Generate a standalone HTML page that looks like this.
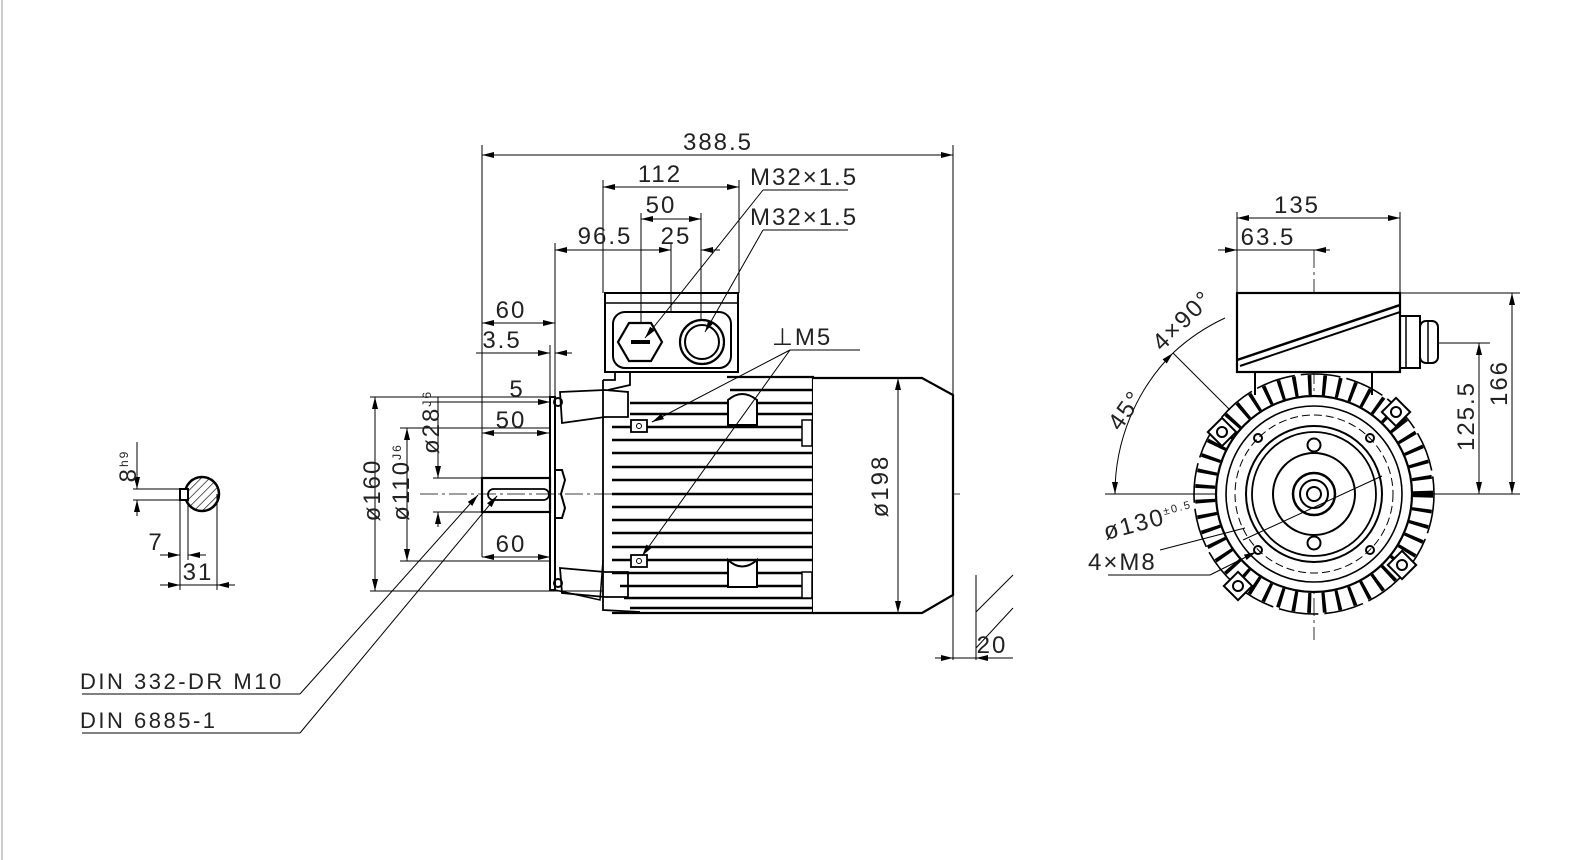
<!DOCTYPE html>
<html><head><meta charset="utf-8"><style>
html,body{margin:0;padding:0;background:#fff}
svg{display:block}
text{font-family:"Liberation Sans",sans-serif;fill:#222;font-size:24px;letter-spacing:2px}
</style></head><body>
<svg width="1596" height="860" viewBox="0 0 1596 860" xmlns="http://www.w3.org/2000/svg">
<defs>
<marker id="a" viewBox="0 0 12 6" refX="12" refY="3" markerWidth="12" markerHeight="6" orient="auto-start-reverse" markerUnits="userSpaceOnUse"><path d="M0,0 L12,3 L0,6 z" fill="#000"/></marker>
<pattern id="h" width="6" height="6" patternUnits="userSpaceOnUse" patternTransform="rotate(45)"><line x1="0" y1="0" x2="0" y2="6" stroke="#000" stroke-width="1.3"/></pattern>
</defs>
<line x1="2" y1="0" x2="2" y2="860" stroke="#999" stroke-width="1"/>
<g stroke="#000" fill="none" stroke-width="1">
<circle cx="202" cy="494" r="17" fill="url(#h)" stroke-width="2.5"/>
<rect x="180" y="489" width="8" height="11" fill="#fff" stroke-width="2"/>
<line x1="133" y1="489" x2="180" y2="489"/><line x1="133" y1="500" x2="180" y2="500"/>
<line x1="137" y1="442" x2="137" y2="489" marker-end="url(#a)"/><line x1="137" y1="516" x2="137" y2="500" marker-end="url(#a)"/>
<line x1="180" y1="500" x2="180" y2="590"/><line x1="188" y1="500" x2="188" y2="560"/><line x1="217" y1="494" x2="217" y2="590"/>
<line x1="160" y1="555" x2="180" y2="555" marker-end="url(#a)"/><line x1="206" y1="555" x2="188" y2="555" marker-end="url(#a)"/>
<line x1="160" y1="585" x2="180" y2="585" marker-end="url(#a)"/><line x1="235" y1="585" x2="217" y2="585" marker-end="url(#a)"/>
<line x1="180" y1="585" x2="217" y2="585"/>

<line x1="420" y1="494" x2="960" y2="494" stroke-dasharray="18 4 3 4" stroke-width="0.8"/>
<rect x="550" y="397" width="5" height="193" stroke-width="2"/>
<path d="M555,397 L555,590 L600,600 L603,560" stroke-width="1.5"/>
<rect x="482" y="478" width="68" height="34" stroke-width="2.2"/>
<rect x="488" y="489" width="61" height="11" rx="5.5" stroke-width="1.8"/>
<path d="M555,470 L562,470 L565,480 L561,494 L565,508 L562,518 L555,518" stroke-width="2"/>
<path d="M560,392 L605,390 L628,392 L628,417 L605,417 L562,423 Z" stroke-width="1.8"/>
<path d="M560,568 L605,572 L628,572 L628,597 L605,597 L562,593 Z" stroke-width="1.8"/>
<circle cx="558" cy="402" r="4" stroke-width="2"/><circle cx="558" cy="583" r="4" stroke-width="2"/>
<path d="M603,380 L603,610 L640,612" stroke-width="1.8"/>
<path d="M727,377 L813,377 L813,613 L612,613" stroke-width="2.2"/>
<path d="M615,373 L615,380 L603,380" stroke-width="1.8"/>
<g stroke-width="2.6">
<line x1="612" y1="427" x2="812" y2="427"/><line x1="612" y1="440" x2="812" y2="440"/>
<line x1="612" y1="453" x2="812" y2="453"/><line x1="612" y1="467" x2="812" y2="467"/>
<line x1="612" y1="480" x2="812" y2="480"/><line x1="612" y1="494" x2="812" y2="494"/>
<line x1="612" y1="507" x2="812" y2="507"/><line x1="612" y1="520" x2="812" y2="520"/>
<line x1="612" y1="533" x2="812" y2="533"/><line x1="612" y1="547" x2="812" y2="547"/>
<line x1="612" y1="560" x2="812" y2="560"/><line x1="612" y1="573" x2="812" y2="573"/>
<line x1="620" y1="586" x2="812" y2="586"/><line x1="624" y1="598" x2="812" y2="598"/>
<line x1="630" y1="608" x2="812" y2="608"/>
<line x1="730" y1="390" x2="812" y2="390"/><line x1="630" y1="403" x2="812" y2="403"/><line x1="630" y1="414" x2="812" y2="414"/>
</g>
<path d="M728,400 L728,425 L757,425 L757,400 Q742,388 728,400 Z" stroke-width="2" fill="#fff"/>
<path d="M728,560 L728,587 L757,587 L757,560 Q742,573 728,560 Z" stroke-width="2" fill="#fff"/>
<rect x="631" y="420" width="16" height="12" stroke-width="1.8" fill="#fff"/><circle cx="639" cy="426" r="2.5"/>
<rect x="631" y="555" width="16" height="12" stroke-width="1.8" fill="#fff"/><circle cx="639" cy="561" r="2.5"/>
<rect x="802" y="420" width="10" height="26" stroke-width="1.5" fill="#fff"/>
<rect x="802" y="572" width="10" height="26" stroke-width="1.5" fill="#fff"/>
<path d="M813,481 L837,481 A13,13 0 0 1 837,508 L813,508" stroke-width="2"/>
<circle cx="818" cy="494" r="4.5" stroke-width="2"/>
<path d="M813,378 L922,378 L953,395 L953,595 L922,613 L813,613" stroke-width="2.2" fill="#fff"/>
<rect x="605" y="293" width="133" height="79" stroke-width="2"/>
<line x1="605" y1="303" x2="738" y2="303" stroke-width="1.5"/>
<rect x="613" y="312" width="118" height="56" rx="12" stroke-width="2"/>
<path d="M630,372 L630,385 L608,390" stroke-width="1.8"/>
<polygon points="629,323 651,323 662,342 651,361 629,361 618,342" stroke-width="2.2"/>
<line x1="631" y1="342" x2="650" y2="342" stroke-width="4"/>
<circle cx="702" cy="342" r="22" stroke-width="2.2"/><circle cx="702" cy="342" r="17" stroke-width="2"/>
<line x1="976" y1="575" x2="976" y2="660"/>
<line x1="976" y1="612" x2="1013" y2="575"/><line x1="976" y1="648" x2="1013" y2="608"/>

<line x1="482" y1="145" x2="482" y2="478"/><line x1="953" y1="145" x2="953" y2="660"/>
<line x1="482" y1="155" x2="953" y2="155" marker-start="url(#a)" marker-end="url(#a)"/>
<line x1="603" y1="180" x2="603" y2="293"/><line x1="739" y1="180" x2="739" y2="293"/>
<line x1="603" y1="187" x2="739" y2="187" marker-start="url(#a)" marker-end="url(#a)"/>
<line x1="641" y1="213" x2="641" y2="323"/><line x1="701" y1="213" x2="701" y2="320"/>
<line x1="641" y1="219" x2="701" y2="219" marker-start="url(#a)" marker-end="url(#a)"/>
<line x1="555" y1="243" x2="555" y2="397"/><line x1="671" y1="243" x2="671" y2="312"/>
<line x1="555" y1="250" x2="671" y2="250" marker-start="url(#a)" marker-end="url(#a)"/>
<line x1="720" y1="250" x2="701" y2="250" marker-end="url(#a)"/>
<line x1="482" y1="323" x2="555" y2="323" marker-start="url(#a)" marker-end="url(#a)"/>
<line x1="476" y1="353" x2="550" y2="353" marker-end="url(#a)"/><line x1="572" y1="353" x2="555" y2="353" marker-end="url(#a)"/>
<line x1="550" y1="345" x2="550" y2="397"/>
<line x1="430" y1="402" x2="550" y2="402" marker-end="url(#a)"/>
<line x1="482" y1="433" x2="549" y2="433" marker-start="url(#a)" marker-end="url(#a)"/>
<line x1="482" y1="433" x2="482" y2="478"/>
<line x1="482" y1="557" x2="550" y2="557" marker-start="url(#a)" marker-end="url(#a)"/>
<line x1="482" y1="512" x2="482" y2="557"/>
<line x1="370" y1="397" x2="550" y2="397"/><line x1="370" y1="591" x2="603" y2="591"/>
<line x1="375" y1="397" x2="375" y2="591" marker-start="url(#a)" marker-end="url(#a)"/>
<line x1="400" y1="428" x2="550" y2="428"/><line x1="400" y1="561" x2="550" y2="561"/>
<line x1="407" y1="428" x2="407" y2="561" marker-start="url(#a)" marker-end="url(#a)"/>
<line x1="433" y1="478" x2="482" y2="478"/><line x1="433" y1="512" x2="482" y2="512"/>
<line x1="438" y1="397" x2="438" y2="478" marker-end="url(#a)"/><line x1="438" y1="527" x2="438" y2="512" marker-end="url(#a)"/>
<line x1="898" y1="378" x2="898" y2="613" marker-start="url(#a)" marker-end="url(#a)"/>
<line x1="935" y1="658" x2="953" y2="658" marker-end="url(#a)"/><line x1="1000" y1="658" x2="976" y2="658" marker-end="url(#a)"/>
<line x1="953" y1="658" x2="1013" y2="658"/>
<polyline points="763,190 848,190"/><line x1="763" y1="190" x2="645" y2="338" marker-end="url(#a)"/>
<polyline points="763,230 848,230"/><line x1="763" y1="230" x2="705" y2="332" marker-end="url(#a)"/>
<polyline points="790,350 860,350"/>
<line x1="790" y1="350" x2="652" y2="422" marker-end="url(#a)"/>
<line x1="790" y1="350" x2="642" y2="556" marker-end="url(#a)"/>
<polyline points="82,694 300,694"/><line x1="300" y1="694" x2="478" y2="495" marker-end="url(#a)"/>
<polyline points="82,733 300,733"/><line x1="300" y1="733" x2="497" y2="496" marker-end="url(#a)"/>

<line x1="1314" y1="250" x2="1314" y2="640" stroke-dasharray="18 4 3 4" stroke-width="0.8"/>
<line x1="1105" y1="494" x2="1520" y2="494" stroke-width="1"/>
<circle cx="1314" cy="494" r="109" stroke-width="20" stroke-dasharray="3.5 11"/>
<circle cx="1314" cy="494" r="120" stroke-width="1.6" stroke-dasharray="40 6"/>
<circle cx="1314" cy="494" r="98" stroke-width="2.2" fill="#fff"/>
<circle cx="1314" cy="494" r="88" stroke-width="1.6"/>
<circle cx="1314" cy="494" r="79" stroke-width="1" stroke-dasharray="8 4"/>
<circle cx="1314" cy="494" r="68" stroke-width="2"/>
<circle cx="1314" cy="494" r="62" stroke-width="1.8"/>
<circle cx="1314" cy="494" r="41" stroke-width="2"/>
<circle cx="1314" cy="494" r="21" stroke-width="2.5"/>
<circle cx="1314" cy="494" r="14" stroke-width="2"/>
<circle cx="1314" cy="494" r="7" stroke-width="2"/>
<circle cx="1314" cy="445" r="6.5" stroke-width="2"/><circle cx="1314" cy="543" r="6.5" stroke-width="2"/>
<circle cx="1258" cy="438" r="4" stroke-width="2"/><circle cx="1370" cy="438" r="4" stroke-width="2"/>
<circle cx="1258" cy="550" r="4" stroke-width="2"/><circle cx="1370" cy="550" r="4" stroke-width="2"/>
<g stroke-width="2" fill="#fff">
<rect x="1212" y="422" width="20" height="20" transform="rotate(45 1222 432)"/><circle cx="1222" cy="432" r="5"/>
<rect x="1386" y="402" width="20" height="20" transform="rotate(45 1396 412)"/><circle cx="1396" cy="412" r="5"/>
<rect x="1228" y="576" width="20" height="20" transform="rotate(45 1238 586)"/><circle cx="1238" cy="586" r="5"/>
<rect x="1392" y="555" width="20" height="20" transform="rotate(45 1402 565)"/><circle cx="1402" cy="565" r="5"/>
</g>
<path d="M1255,372 L1255,395 M1372,372 L1372,395" stroke-width="2"/>
<rect x="1237" y="293" width="163" height="79" stroke-width="2.2" fill="#fff"/>
<line x1="1237" y1="360" x2="1400" y2="305" stroke-width="2.5"/><line x1="1240" y1="366" x2="1400" y2="312" stroke-width="2"/>
<rect x="1400" y="316" width="20" height="52" stroke-width="2"/>
<rect x="1420" y="321" width="18" height="42" rx="6" stroke-width="2"/>
<line x1="1406" y1="316" x2="1406" y2="368" stroke-width="1.5"/><line x1="1428" y1="321" x2="1428" y2="363" stroke-width="1.5"/>
<line x1="1237" y1="212" x2="1237" y2="293"/><line x1="1400" y1="212" x2="1400" y2="293"/>
<line x1="1237" y1="218" x2="1400" y2="218" marker-start="url(#a)" marker-end="url(#a)"/>
<line x1="1218" y1="250" x2="1237" y2="250" marker-end="url(#a)"/><line x1="1330" y1="250" x2="1314" y2="250" marker-end="url(#a)"/>
<line x1="1237" y1="250" x2="1314" y2="250"/>
<line x1="1400" y1="293" x2="1520" y2="293"/><line x1="1438" y1="343" x2="1490" y2="343"/>
<line x1="1512" y1="293" x2="1512" y2="494" marker-start="url(#a)" marker-end="url(#a)"/>
<line x1="1479" y1="343" x2="1479" y2="494" marker-start="url(#a)" marker-end="url(#a)"/>
<path d="M1115,494 A199,199 0 0 1 1173,353" marker-start="url(#a)" marker-end="url(#a)"/>
<path d="M1173,353 A199,199 0 0 1 1225,318"/>
<line x1="1173" y1="353" x2="1230" y2="410"/>
<line x1="1243" y1="540" x2="1382" y2="476"/>
<line x1="1245" y1="528" x2="1160" y2="550"/>
<line x1="1108" y1="575" x2="1210" y2="575"/><line x1="1210" y1="575" x2="1256" y2="552" marker-end="url(#a)"/>
</g>
<g text-anchor="middle">
<text x="718" y="150">388.5</text>
<text x="660" y="182">112</text>
<text x="661" y="213">50</text>
<text x="605" y="244">96.5</text>
<text x="676" y="244">25</text>
<text x="511" y="318">60</text>
<text x="502" y="348">3.5</text>
<text x="517" y="397">5</text>
<text x="511" y="428">50</text>
<text x="511" y="552">60</text>
<text x="992" y="653">20</text>
<text x="156" y="550">7</text>
<text x="198" y="580">31</text>
<text x="1297" y="213">135</text>
<text x="1268" y="245">63.5</text>
<text transform="translate(380,490) rotate(-90)">ø160</text>
<text transform="translate(409,482) rotate(-90)">ø110<tspan font-size="12" dy="-8">J6</tspan></text>
<text transform="translate(439,422) rotate(-90)">ø28<tspan font-size="12" dy="-8">J6</tspan></text>
<text transform="translate(888,486) rotate(-90)">ø198</text>
<text transform="translate(136,466) rotate(-90)">8<tspan font-size="12" dy="-8">h9</tspan></text>
<text transform="translate(1507,383) rotate(-90)">166</text>
<text transform="translate(1474,416) rotate(-90)">125.5</text>
</g>
<text x="750" y="185">M32×1.5</text>
<text x="750" y="225">M32×1.5</text>
<text x="772" y="345">⊥M5</text>
<text x="80" y="689" style="font-size:22px;letter-spacing:2.5px">DIN 332-DR M10</text>
<text x="80" y="728" style="font-size:22px;letter-spacing:2.5px">DIN 6885-1</text>
<text transform="translate(1120,432) rotate(-55)">45°</text>
<text transform="translate(1162,352) rotate(-45)">4×90°</text>
<text transform="translate(1106,540) rotate(-15)">ø130<tspan font-size="11" dy="-9">±0.5</tspan></text>
<text x="1088" y="570">4×M8</text>
</svg>
</body></html>
